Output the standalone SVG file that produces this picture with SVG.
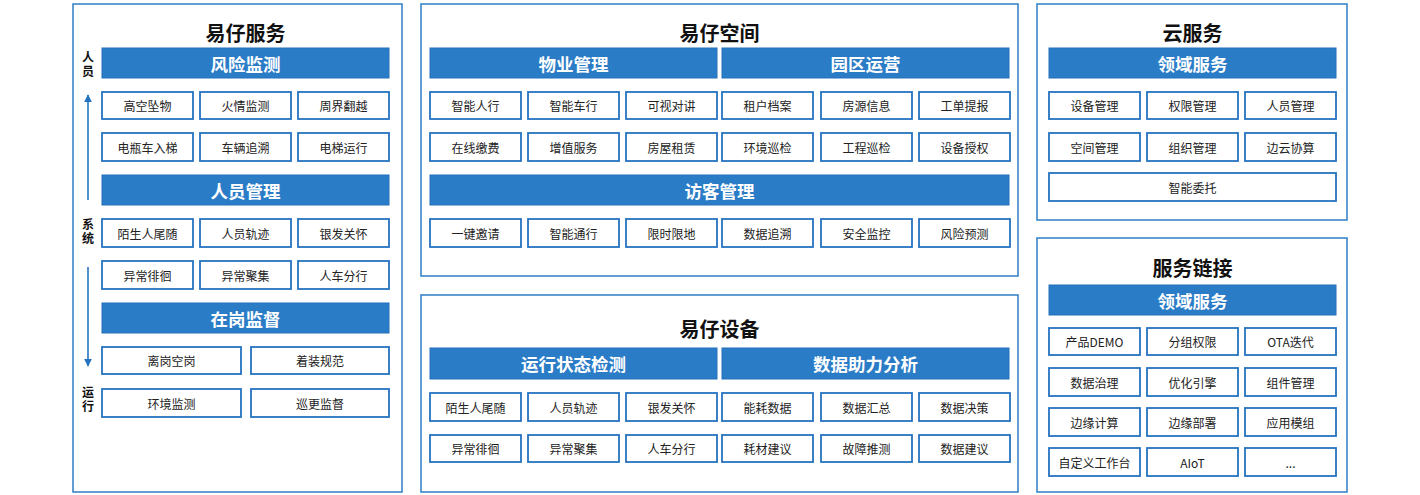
<svg xmlns="http://www.w3.org/2000/svg" width="1420" height="495" viewBox="0 0 1420 495">
<style>
.panel{fill:#fff;stroke:#3a85c9;stroke-width:1.6}
.hdr{fill:#2b7cc7;stroke:#2470bb;stroke-width:1}
.box{fill:#fff;stroke:#2573c0;stroke-width:1.8}
.title{font-family:"Noto Sans CJK SC","Noto Sans",sans-serif;font-size:20px;font-weight:bold;fill:#111;text-anchor:middle;dominant-baseline:central}
.ht{font-family:"Noto Sans CJK SC","Noto Sans",sans-serif;font-size:17.5px;font-weight:bold;fill:#fff;text-anchor:middle;dominant-baseline:central}
.bt{font-family:"Noto Sans CJK SC","Noto Sans",sans-serif;font-size:12px;fill:#222;text-anchor:middle;dominant-baseline:central}
.side{font-family:"Noto Sans CJK SC","Noto Sans",sans-serif;font-size:12px;font-weight:bold;fill:#111;text-anchor:middle;writing-mode:vertical-rl;text-orientation:upright;letter-spacing:2px}
.arr{stroke:#2573c0;stroke-width:1.6;fill:none}
</style>
<defs>
<marker id="ah" viewBox="0 0 10 10" refX="9" refY="5" markerWidth="8" markerHeight="8" markerUnits="userSpaceOnUse" orient="auto">
<path d="M0,0 L10,5 L0,10 z" fill="#2573c0"/>
</marker>
</defs>
<rect width="1420" height="495" fill="#fff"/>

<g id="yizai-service">
<rect class="panel" x="73" y="4" width="329" height="488"/>
<text class="title" x="245.5" y="32">易仔服务</text>
<g id="risk">
<rect class="hdr" x="102" y="48" width="287" height="30"/><text class="ht" x="245.5" y="63">风险监测</text>
<rect class="box" x="102" y="92" width="91" height="27"/><text class="bt" x="147.5" y="105.5">高空坠物</text>
<rect class="box" x="200" y="92" width="91" height="27"/><text class="bt" x="245.5" y="105.5">火情监测</text>
<rect class="box" x="298" y="92" width="91" height="27"/><text class="bt" x="343.5" y="105.5">周界翻越</text>
<rect class="box" x="102" y="133" width="91" height="28"/><text class="bt" x="147.5" y="147">电瓶车入梯</text>
<rect class="box" x="200" y="133" width="91" height="28"/><text class="bt" x="245.5" y="147">车辆追溯</text>
<rect class="box" x="298" y="133" width="91" height="28"/><text class="bt" x="343.5" y="147">电梯运行</text>
</g>
<g id="people">
<rect class="hdr" x="102" y="175" width="287" height="30"/><text class="ht" x="245.5" y="190">人员管理</text>
<rect class="box" x="102" y="219" width="91" height="28"/><text class="bt" x="147.5" y="233">陌生人尾随</text>
<rect class="box" x="200" y="219" width="91" height="28"/><text class="bt" x="245.5" y="233">人员轨迹</text>
<rect class="box" x="298" y="219" width="91" height="28"/><text class="bt" x="343.5" y="233">银发关怀</text>
<rect class="box" x="102" y="261" width="91" height="28"/><text class="bt" x="147.5" y="275">异常徘徊</text>
<rect class="box" x="200" y="261" width="91" height="28"/><text class="bt" x="245.5" y="275">异常聚集</text>
<rect class="box" x="298" y="261" width="91" height="28"/><text class="bt" x="343.5" y="275">人车分行</text>
</g>
<g id="onduty">
<rect class="hdr" x="102" y="303" width="287" height="30"/><text class="ht" x="245.5" y="318">在岗监督</text>
<rect class="box" x="102" y="347" width="139" height="27"/><text class="bt" x="171.5" y="360.5">离岗空岗</text>
<rect class="box" x="251" y="347" width="138" height="27"/><text class="bt" x="320" y="360.5">着装规范</text>
<rect class="box" x="102" y="389" width="139" height="28"/><text class="bt" x="171.5" y="403">环境监测</text>
<rect class="box" x="251" y="389" width="138" height="28"/><text class="bt" x="320" y="403">巡更监督</text>
</g>
<g id="side-labels">
<text class="side" x="88" y="65">人员</text>
<text class="side" x="88" y="232">系统</text>
<text class="side" x="88" y="400">运行</text>
</g>
</g>

<g id="connectors">
<line class="arr" x1="88" y1="200" x2="88" y2="95" marker-end="url(#ah)"/>
<line class="arr" x1="88" y1="267" x2="88" y2="366" marker-end="url(#ah)"/>
</g>

<g id="yizai-space">
<rect class="panel" x="421" y="4" width="597" height="272"/>
<text class="title" x="719.5" y="32">易仔空间</text>
<g id="property">
<rect class="hdr" x="430" y="48" width="287" height="30"/><text class="ht" x="573.5" y="63">物业管理</text>
<rect class="box" x="430" y="92" width="91" height="27"/><text class="bt" x="475.5" y="105.5">智能人行</text>
<rect class="box" x="528" y="92" width="91" height="27"/><text class="bt" x="573.5" y="105.5">智能车行</text>
<rect class="box" x="626" y="92" width="91" height="27"/><text class="bt" x="671.5" y="105.5">可视对讲</text>
<rect class="box" x="430" y="133" width="91" height="28"/><text class="bt" x="475.5" y="147">在线缴费</text>
<rect class="box" x="528" y="133" width="91" height="28"/><text class="bt" x="573.5" y="147">增值服务</text>
<rect class="box" x="626" y="133" width="91" height="28"/><text class="bt" x="671.5" y="147">房屋租赁</text>
</g>
<g id="park">
<rect class="hdr" x="722" y="48" width="287" height="30"/><text class="ht" x="865.5" y="63">园区运营</text>
<rect class="box" x="722" y="92" width="91" height="27"/><text class="bt" x="767.5" y="105.5">租户档案</text>
<rect class="box" x="821" y="92" width="91" height="27"/><text class="bt" x="866.5" y="105.5">房源信息</text>
<rect class="box" x="919" y="92" width="91" height="27"/><text class="bt" x="964.5" y="105.5">工单提报</text>
<rect class="box" x="722" y="133" width="91" height="28"/><text class="bt" x="767.5" y="147">环境巡检</text>
<rect class="box" x="821" y="133" width="91" height="28"/><text class="bt" x="866.5" y="147">工程巡检</text>
<rect class="box" x="919" y="133" width="91" height="28"/><text class="bt" x="964.5" y="147">设备授权</text>
</g>
<g id="visitor">
<rect class="hdr" x="430" y="175" width="579" height="30"/><text class="ht" x="719.5" y="190">访客管理</text>
<rect class="box" x="430" y="219" width="91" height="28"/><text class="bt" x="475.5" y="233">一键邀请</text>
<rect class="box" x="528" y="219" width="91" height="28"/><text class="bt" x="573.5" y="233">智能通行</text>
<rect class="box" x="626" y="219" width="91" height="28"/><text class="bt" x="671.5" y="233">限时限地</text>
<rect class="box" x="722" y="219" width="91" height="28"/><text class="bt" x="767.5" y="233">数据追溯</text>
<rect class="box" x="821" y="219" width="91" height="28"/><text class="bt" x="866.5" y="233">安全监控</text>
<rect class="box" x="919" y="219" width="91" height="28"/><text class="bt" x="964.5" y="233">风险预测</text>
</g>
</g>

<g id="yizai-device">
<rect class="panel" x="421" y="295" width="597" height="197"/>
<text class="title" x="719.5" y="328">易仔设备</text>
<g id="status">
<rect class="hdr" x="430" y="348" width="287" height="31"/><text class="ht" x="573.5" y="363.5">运行状态检测</text>
<rect class="box" x="430" y="393" width="91" height="28"/><text class="bt" x="475.5" y="407">陌生人尾随</text>
<rect class="box" x="528" y="393" width="91" height="28"/><text class="bt" x="573.5" y="407">人员轨迹</text>
<rect class="box" x="626" y="393" width="91" height="28"/><text class="bt" x="671.5" y="407">银发关怀</text>
<rect class="box" x="430" y="435" width="91" height="27"/><text class="bt" x="475.5" y="448.5">异常徘徊</text>
<rect class="box" x="528" y="435" width="91" height="27"/><text class="bt" x="573.5" y="448.5">异常聚集</text>
<rect class="box" x="626" y="435" width="91" height="27"/><text class="bt" x="671.5" y="448.5">人车分行</text>
</g>
<g id="analysis">
<rect class="hdr" x="722" y="348" width="287" height="31"/><text class="ht" x="865.5" y="363.5">数据助力分析</text>
<rect class="box" x="722" y="393" width="91" height="28"/><text class="bt" x="767.5" y="407">能耗数据</text>
<rect class="box" x="821" y="393" width="91" height="28"/><text class="bt" x="866.5" y="407">数据汇总</text>
<rect class="box" x="919" y="393" width="91" height="28"/><text class="bt" x="964.5" y="407">数据决策</text>
<rect class="box" x="722" y="435" width="91" height="27"/><text class="bt" x="767.5" y="448.5">耗材建议</text>
<rect class="box" x="821" y="435" width="91" height="27"/><text class="bt" x="866.5" y="448.5">故障推测</text>
<rect class="box" x="919" y="435" width="91" height="27"/><text class="bt" x="964.5" y="448.5">数据建议</text>
</g>
</g>

<g id="cloud-service">
<rect class="panel" x="1037" y="4" width="310" height="216"/>
<text class="title" x="1192.5" y="32">云服务</text>
<rect class="hdr" x="1049" y="48" width="287" height="30"/><text class="ht" x="1192.5" y="63">领域服务</text>
<rect class="box" x="1049" y="92" width="91" height="27"/><text class="bt" x="1094.5" y="105.5">设备管理</text>
<rect class="box" x="1147" y="92" width="91" height="27"/><text class="bt" x="1192.5" y="105.5">权限管理</text>
<rect class="box" x="1245" y="92" width="91" height="27"/><text class="bt" x="1290.5" y="105.5">人员管理</text>
<rect class="box" x="1049" y="133" width="91" height="28"/><text class="bt" x="1094.5" y="147">空间管理</text>
<rect class="box" x="1147" y="133" width="91" height="28"/><text class="bt" x="1192.5" y="147">组织管理</text>
<rect class="box" x="1245" y="133" width="91" height="28"/><text class="bt" x="1290.5" y="147">边云协算</text>
<rect class="box" x="1049" y="173" width="287" height="28"/><text class="bt" x="1192.5" y="187">智能委托</text>
</g>

<g id="service-link">
<rect class="panel" x="1037" y="238" width="310" height="254"/>
<text class="title" x="1192.5" y="267">服务链接</text>
<rect class="hdr" x="1049" y="285" width="287" height="30"/><text class="ht" x="1192.5" y="300">领域服务</text>
<rect class="box" x="1049" y="328" width="91" height="27"/><text class="bt" x="1094.5" y="341.5">产品DEMO</text>
<rect class="box" x="1147" y="328" width="91" height="27"/><text class="bt" x="1192.5" y="341.5">分组权限</text>
<rect class="box" x="1245" y="328" width="91" height="27"/><text class="bt" x="1290.5" y="341.5">OTA迭代</text>
<rect class="box" x="1049" y="368" width="91" height="28"/><text class="bt" x="1094.5" y="382">数据治理</text>
<rect class="box" x="1147" y="368" width="91" height="28"/><text class="bt" x="1192.5" y="382">优化引擎</text>
<rect class="box" x="1245" y="368" width="91" height="28"/><text class="bt" x="1290.5" y="382">组件管理</text>
<rect class="box" x="1049" y="408" width="91" height="28"/><text class="bt" x="1094.5" y="422">边缘计算</text>
<rect class="box" x="1147" y="408" width="91" height="28"/><text class="bt" x="1192.5" y="422">边缘部署</text>
<rect class="box" x="1245" y="408" width="91" height="28"/><text class="bt" x="1290.5" y="422">应用模组</text>
<rect class="box" x="1049" y="448" width="91" height="28"/><text class="bt" x="1094.5" y="462">自定义工作台</text>
<rect class="box" x="1147" y="448" width="91" height="28"/><text class="bt" x="1192.5" y="462">AIoT</text>
<rect class="box" x="1245" y="448" width="91" height="28"/><text class="bt" x="1290.5" y="462">...</text>
</g>
</svg>
